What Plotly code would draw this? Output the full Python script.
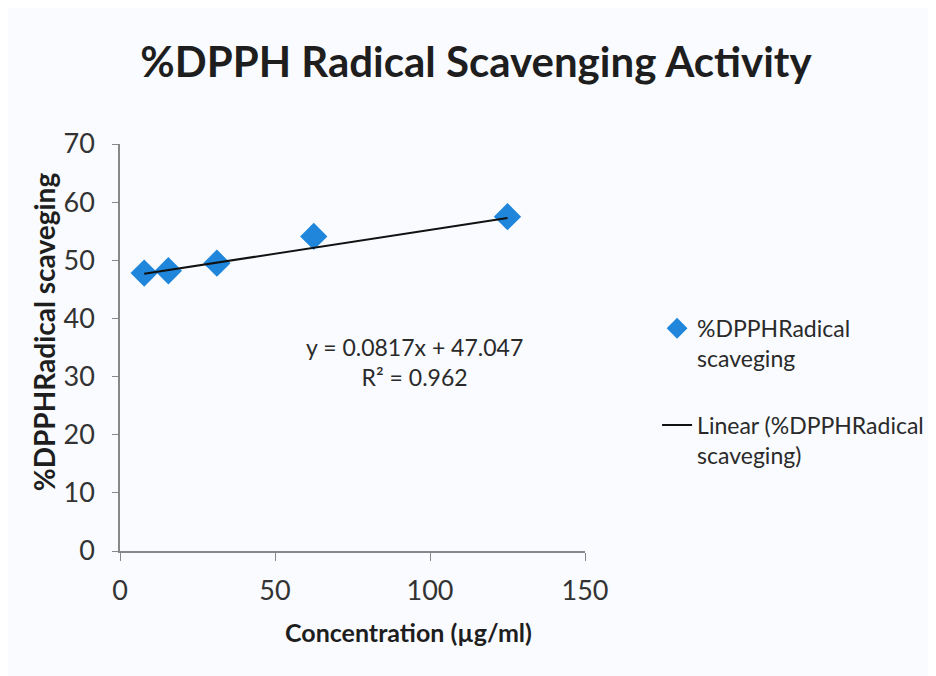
import plotly.graph_objects as go

concentration = [7.8, 15.6, 31.25, 62.5, 125]
scavenging = [47.8, 48.2, 49.5, 54.1, 57.5]
slope = 0.0817
intercept = 47.047
r_squared = 0.962

trend_x = [min(concentration), max(concentration)]
trend_y = [slope * v + intercept for v in trend_x]

FONT = "Lato"

fig = go.Figure()
fig.add_trace(go.Scatter(
    x=concentration, y=scavenging, mode="markers",
    name="%DPPHRadical<br>scaveging", legendgroup="data",
    marker=dict(symbol="diamond", size=21, color="#1f86dc"),
))
fig.add_trace(go.Scatter(
    x=trend_x, y=trend_y, mode="lines",
    name="Linear (%DPPHRadical<br>scaveging)", legendgroup="trend",
    line=dict(color="#111111", width=2),
))

fig.add_annotation(
    x=95, y=32.5, xref="x", yref="y",
    text=f"y = {slope}x + {intercept}<br>R² = {r_squared}",
    showarrow=False, font=dict(family=FONT, size=23, color="#2a2a2a"),
    align="center",
)
# axis titles (positioned as in the original, off-centre)
fig.add_annotation(
    x=(408 - 120) / 465, y=-0.20, xref="paper", yref="paper",
    text="<b>Concentration (µg/ml)</b>", showarrow=False,
    font=dict(family=FONT, size=25, color="#1e1e1e"),
    xanchor="center", yanchor="middle",
)
fig.add_annotation(
    x=-0.163, y=(551 - 332) / 407, xref="paper", yref="paper",
    text="<b>%DPPHRadical scaveging</b>", showarrow=False, textangle=-90,
    font=dict(family=FONT, size=28, color="#1e1e1e"),
    xanchor="center", yanchor="middle",
)

fig.update_layout(
    width=936, height=676,
    margin=dict(l=112, r=359, t=136, b=133),
    paper_bgcolor="#f9fbfe", plot_bgcolor="#f9fbfe",
    title=dict(text="<b>%DPPH Radical Scavenging Activity</b>",
               x=0.5, xanchor="center", y=0.92, yanchor="middle",
               font=dict(family=FONT, size=42, color="#1e1e1e")),
    font=dict(family=FONT, color="#333333"),
    showlegend=True,
    legend=dict(x=1.155, y=0.60, xanchor="left", yanchor="top", valign="top",
                font=dict(family=FONT, size=23, color="#2a2a2a"),
                bgcolor="rgba(0,0,0,0)", tracegroupgap=34),
)
fig.update_xaxes(
    range=[0, 150], tickvals=[0, 50, 100, 150],
    showgrid=False, zeroline=False, showline=True, linecolor="#888888", linewidth=1.5,
    ticks="outside", ticklen=8, tickcolor="#888888", ticklabelstandoff=7,
    tickfont=dict(family=FONT, size=27, color="#333333"),
)
fig.update_yaxes(
    range=[0, 70], tickvals=list(range(0, 71, 10)),
    showgrid=False, zeroline=False, showline=True, linecolor="#888888", linewidth=1.5,
    ticks="outside", ticklen=6, tickcolor="#888888", ticklabelstandoff=12,
    tickfont=dict(family=FONT, size=27, color="#333333"),
)

fig.write_html("out.html")
